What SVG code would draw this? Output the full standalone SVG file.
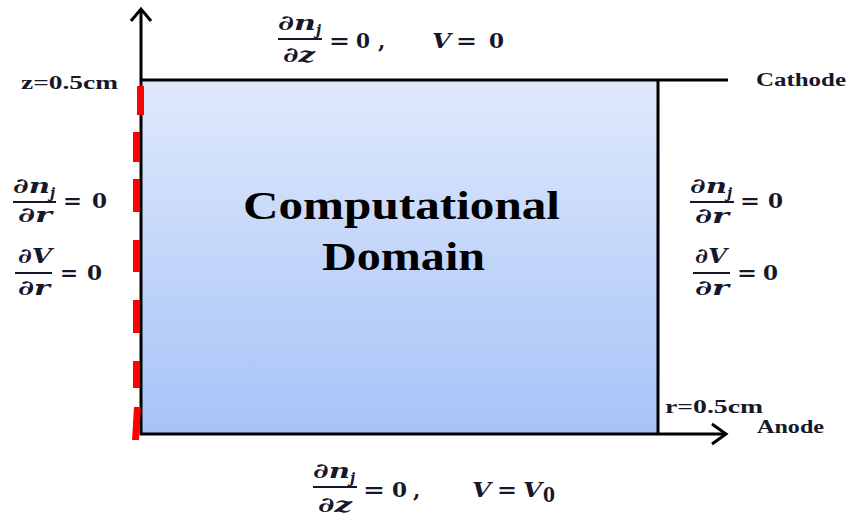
<svg xmlns="http://www.w3.org/2000/svg" width="847" height="516" viewBox="0 0 847 516">
<defs>
<linearGradient id="dom" x1="0" y1="0" x2="0" y2="1">
<stop offset="0" stop-color="#dfe9fb"/>
<stop offset="1" stop-color="#a6c3f8"/>
</linearGradient>
<style>
.m{font-family:"DejaVu Serif","Liberation Serif",serif;font-weight:bold;font-style:italic;font-size:21px;fill:#17172b}
.n{font-family:"DejaVu Serif","Liberation Serif",serif;font-weight:bold;font-size:21px;fill:#17172b}
.s{font-family:"DejaVu Serif","Liberation Serif",serif;font-weight:bold;font-style:italic;font-size:14px;fill:#17172b}
.lab{font-family:"Liberation Serif","DejaVu Serif",serif;font-weight:bold;font-size:18px;fill:#17172b}
.big{font-family:"Liberation Serif","DejaVu Serif",serif;font-weight:bold;font-size:39px;fill:#000}
.bar{stroke:#17172b;stroke-width:1.8}
.ax{stroke:#000;stroke-width:3;fill:none}
.dash{fill:#ff0000}
</style>
</defs>
<rect width="847" height="516" fill="#ffffff"/>
<g id="domain">
<rect x="141" y="80" width="517" height="354" fill="url(#dom)"/>
<line x1="658" y1="80" x2="658" y2="435" class="ax"/>
<text class="big" x="243" y="219" textLength="317" lengthAdjust="spacingAndGlyphs">Computational</text>
<text class="big" x="322" y="270" textLength="163" lengthAdjust="spacingAndGlyphs">Domain</text>
</g>
<g id="connectors">
<line x1="141" y1="435" x2="141" y2="9" class="ax"/>
<polyline points="131,21 141,9 151,21" class="ax"/>
<line x1="140" y1="80" x2="728" y2="80" class="ax"/>
<line x1="140" y1="434" x2="726" y2="434" class="ax"/>
<polyline points="712,424 726,434 712,444" class="ax"/>
</g>
<g id="symmetry-axis">
<rect class="dash" x="137" y="86" width="7" height="29"/>
<rect class="dash" x="133" y="132" width="7" height="30"/>
<rect class="dash" x="133" y="179" width="7" height="33"/>
<rect class="dash" x="133" y="240" width="7" height="32"/>
<rect class="dash" x="133" y="300" width="7" height="33"/>
<rect class="dash" x="133" y="361" width="7" height="27"/>
<polygon class="dash" points="134,407 141,407 139,440 132,440"/>
</g>
<g id="top-bc">
<text class="m" x="278" y="30" textLength="38" lengthAdjust="spacingAndGlyphs">∂n</text>
<text class="s" x="316" y="35">j</text>
<line class="bar" x1="278" y1="39" x2="322" y2="39"/>
<text class="m" x="283" y="62" textLength="32" lengthAdjust="spacingAndGlyphs">∂z</text>
<text class="n" x="329" y="48" textLength="21" lengthAdjust="spacingAndGlyphs">=</text>
<text class="n" x="356" y="48" textLength="14" lengthAdjust="spacingAndGlyphs">0</text>
<text class="n" x="378" y="48">,</text>
<text class="m" x="432" y="48" textLength="19" lengthAdjust="spacingAndGlyphs">V</text>
<text class="n" x="456" y="48" textLength="21" lengthAdjust="spacingAndGlyphs">=</text>
<text class="n" x="489" y="48" textLength="15" lengthAdjust="spacingAndGlyphs">0</text>
</g>
<g id="left-bc">
<text class="m" x="13" y="193" textLength="37" lengthAdjust="spacingAndGlyphs">∂n</text>
<text class="s" x="50" y="198">j</text>
<line class="bar" x1="13" y1="202" x2="56" y2="202"/>
<text class="m" x="18" y="222" textLength="34" lengthAdjust="spacingAndGlyphs">∂r</text>
<text class="n" x="63" y="208" textLength="19" lengthAdjust="spacingAndGlyphs">=</text>
<text class="n" x="92" y="208" textLength="15" lengthAdjust="spacingAndGlyphs">0</text>
<text class="m" x="18" y="263" textLength="34" lengthAdjust="spacingAndGlyphs">∂V</text>
<line class="bar" x1="15" y1="273" x2="52" y2="273"/>
<text class="m" x="18" y="295" textLength="32" lengthAdjust="spacingAndGlyphs">∂r</text>
<text class="n" x="60" y="280" textLength="18" lengthAdjust="spacingAndGlyphs">=</text>
<text class="n" x="87" y="280" textLength="15" lengthAdjust="spacingAndGlyphs">0</text>
</g>
<g id="right-bc">
<text class="m" x="690" y="193" textLength="37" lengthAdjust="spacingAndGlyphs">∂n</text>
<text class="s" x="727" y="198">j</text>
<line class="bar" x1="690" y1="202" x2="734" y2="202"/>
<text class="m" x="695" y="223" textLength="34" lengthAdjust="spacingAndGlyphs">∂r</text>
<text class="n" x="740" y="208" textLength="20" lengthAdjust="spacingAndGlyphs">=</text>
<text class="n" x="768" y="208" textLength="15" lengthAdjust="spacingAndGlyphs">0</text>
<text class="m" x="695" y="263" textLength="32" lengthAdjust="spacingAndGlyphs">∂V</text>
<line class="bar" x1="693" y1="273" x2="730" y2="273"/>
<text class="m" x="695" y="295" textLength="34" lengthAdjust="spacingAndGlyphs">∂r</text>
<text class="n" x="737" y="280" textLength="20" lengthAdjust="spacingAndGlyphs">=</text>
<text class="n" x="763" y="280" textLength="15" lengthAdjust="spacingAndGlyphs">0</text>
</g>
<g id="bottom-bc">
<text class="m" x="313" y="478" textLength="37" lengthAdjust="spacingAndGlyphs">∂n</text>
<text class="s" x="350" y="483">j</text>
<line class="bar" x1="313" y1="487" x2="357" y2="487"/>
<text class="m" x="318" y="512" textLength="34" lengthAdjust="spacingAndGlyphs">∂z</text>
<text class="n" x="363" y="497" textLength="22" lengthAdjust="spacingAndGlyphs">=</text>
<text class="n" x="392" y="497" textLength="15" lengthAdjust="spacingAndGlyphs">0</text>
<text class="n" x="413" y="497">,</text>
<text class="m" x="472" y="497" textLength="19" lengthAdjust="spacingAndGlyphs">V</text>
<text class="n" x="497" y="497" textLength="20" lengthAdjust="spacingAndGlyphs">=</text>
<text class="m" x="523" y="497" textLength="19" lengthAdjust="spacingAndGlyphs">V</text>
<text class="n" x="543" y="502" font-size="15" textLength="12" lengthAdjust="spacingAndGlyphs">0</text>
</g>
<g id="labels">
<text class="lab" x="21" y="89" textLength="97" lengthAdjust="spacingAndGlyphs">z=0.5cm</text>
<text class="lab" x="756" y="86" textLength="90" lengthAdjust="spacingAndGlyphs">Cathode</text>
<text class="lab" x="665" y="413" textLength="98" lengthAdjust="spacingAndGlyphs">r=0.5cm</text>
<text class="lab" x="757" y="433" textLength="67" lengthAdjust="spacingAndGlyphs">Anode</text>
</g>
</svg>
